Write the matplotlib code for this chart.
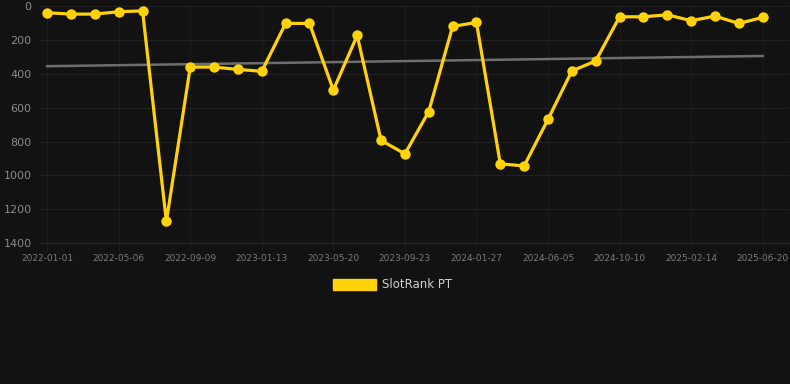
import numpy as np
import matplotlib
matplotlib.use("Agg")
import matplotlib.pyplot as plt
from matplotlib.patches import Patch

# Rank values (lower is better), one point per period
ranks = [39, 47, 47, 33, 28, 1272, 360, 360, 374, 385,
         102, 102, 496, 173, 793, 873, 623, 120, 96, 932,
         944, 669, 383, 324, 63, 63, 51, 86, 59, 102, 67]

# Labels shown on every third point
tick_labels = ['2022-01-01', '2022-05-06', '2022-09-09', '2023-01-13',
               '2023-05-20', '2023-09-23', '2024-01-27', '2024-06-05',
               '2024-10-10', '2025-02-14', '2025-06-20']

series_name = 'SlotRank PT'

bg = '#121212'
gold = '#FFD20A'

fig = plt.figure(figsize=(7.9, 3.84), dpi=100, facecolor=bg)
ax = fig.add_axes([0.0506, 0.367, 0.948, 0.617])
ax.set_facecolor(bg)

x = np.arange(len(ranks))

# Linear trend of the ranks
coef = np.polyfit(x, ranks, 1)
ax.plot(x, np.polyval(coef, x), color='#6e6e6e', linewidth=1.8, zorder=2)

ax.plot(x, ranks, color=gold, linewidth=2.3, marker='o', markersize=7.5,
        markeredgewidth=0, zorder=3, clip_on=False)

ax.set_ylim(1400, 0)
ax.set_xlim(-0.3, 31.1)
ax.set_yticks([0, 200, 400, 600, 800, 1000, 1200, 1400])
ax.set_xticks(x[::3])
ax.set_xticklabels(tick_labels)

ax.grid(True, axis='y', color='#212121', linewidth=0.8)
ax.grid(True, axis='x', color='#1c1c1c', linewidth=0.8)
for s in ax.spines.values():
    s.set_visible(False)
ax.spines['bottom'].set_visible(True)
ax.spines['bottom'].set_color('#2a2a2a')
ax.tick_params(axis='y', colors='#8a8a8a', labelsize=8, length=0, pad=6)
ax.tick_params(axis='x', colors='#1c1c1c', labelcolor='#7a7a7a', labelsize=6.5,
               length=6, pad=2)

handle = Patch(facecolor=gold, edgecolor=gold)
leg = fig.legend([handle], [series_name], loc='center', bbox_to_anchor=(0.497, 0.258),
                 frameon=False, handlelength=3.6, handleheight=1.0,
                 fontsize=8.5, labelcolor='#d0d0d0', handletextpad=0.5)

fig.savefig('out.png', dpi=100, facecolor=bg)
